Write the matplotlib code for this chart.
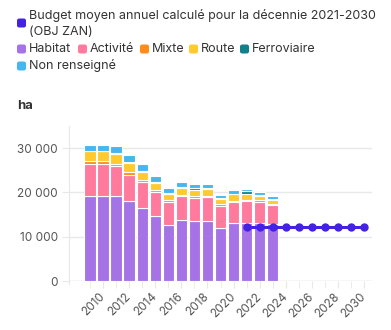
import matplotlib
matplotlib.use('Agg')
import matplotlib.pyplot as plt
from matplotlib.patches import FancyBboxPatch
from matplotlib.ticker import FuncFormatter

plt.rcParams['font.family'] = ['Inter', 'DejaVu Sans']

# data (ha)
years = list(range(2009, 2024))
habitat = [19300, 19300, 19170, 18130, 16470, 14670, 12740, 13860, 13480, 13560, 11910, 13180, 13100, 13030, 12800]
activite = [7150, 7150, 6730, 5870, 5780, 5480, 5090, 5240, 5240, 5390, 5020, 4650, 4950, 4800, 4430]
mixte = [550, 550, 600, 560, 450, 450, 470, 400, 380, 350, 470, 270, 250, 370, 270]
route = [2300, 2300, 2200, 2110, 2020, 1580, 1400, 1550, 1500, 1530, 1180, 1520, 1320, 1050, 860]
ferroviaire = [150, 150, 200, 100, 100, 100, 100, 100, 450, 100, 100, 100, 600, 100, 100]
non_renseigne = [1350, 1350, 1600, 1700, 1680, 1320, 1100, 1150, 950, 870, 720, 730, 450, 800, 710]

budget_years = list(range(2021, 2031))
budget = [12130] * len(budget_years)

series = [
    ('Habitat', habitat, '#a673e6'),
    ('Activité', activite, '#ff7a9c'),
    ('Mixte', mixte, '#ff8c1a'),
    ('Route', route, '#ffca2e'),
    ('Ferroviaire', ferroviaire, '#12808a'),
    ('Non renseigné', non_renseigne, '#44b6f0'),
]
budget_color = '#4421e3'

W, H = 391, 330
fig = plt.figure(figsize=(W / 100, H / 100), dpi=100)
ax = fig.add_axes([69 / W, 1 - 281 / H, (372 - 69) / W, (281 - 126) / H])

bottom = [0] * len(years)
for name, vals, col in series:
    ax.bar(years, vals, bottom=bottom, width=0.86, color=col, edgecolor='white',
           linewidth=0.8, zorder=2)
    bottom = [b + v for b, v in zip(bottom, vals)]

ax.plot(budget_years, budget, color=budget_color, lw=2.2, marker='o', ms=5, zorder=3)

ax.set_xlim(2007.4, 2030.6)
ax.set_ylim(0, 35000)
ax.set_yticks([0, 10000, 20000, 30000])
ax.yaxis.set_major_formatter(FuncFormatter(lambda v, p: f"{int(v):,}".replace(',', ' ')))
ax.set_xticks(range(2010, 2031, 2))
ax.set_xticks(range(2009, 2031), minor=True)
ax.grid(axis='y', color='#e8e8e8', lw=1, zorder=0)
for s in ['top', 'right', 'bottom']:
    ax.spines[s].set_visible(False)
ax.spines['left'].set_color('#e8e8e8')
ax.spines['left'].set_bounds(-600, 35000)
ax.tick_params(axis='y', length=5, color='#e8e8e8', labelsize=8.5, labelcolor='#555555', pad=3)
ax.tick_params(axis='x', which='both', length=5, color='#e8e8e8', labelsize=8.5,
               labelcolor='#555555', pad=5)
ax.axhline(0, color='#e8e8e8', lw=1, zorder=1)

for lab in ax.get_xticklabels():
    lab.set_rotation(45)
    lab.set_ha('right')
    lab.set_va('center')
    lab.set_rotation_mode('anchor')

fig.text(17 / W, 1 - 106 / H, 'ha', fontsize=9.5, fontweight='bold', color='#333333', va='center')

# legend
def legend_item(x, y, label, col):
    fig.patches.append(FancyBboxPatch((x / W, 1 - (y + 4.5) / H), 9 / W, 9 / H,
                                      boxstyle='round,pad=0,rounding_size=0.006',
                                      transform=fig.transFigure, facecolor=col,
                                      edgecolor='none'))
    fig.text((x + 12) / W, 1 - y / H, label, fontsize=9, color='#333333', va='center')

legend_item(17, 23, '', budget_color)
fig.text(29 / W, 1 - 15 / H, 'Budget moyen annuel calculé pour la décennie 2021-2030',
         fontsize=9, color='#333333', va='center')
fig.text(29 / W, 1 - 32 / H, '(OBJ ZAN)', fontsize=9, color='#333333', va='center')
legend_item(17, 49, 'Habitat', series[0][2])
legend_item(78, 49, 'Activité', series[1][2])
legend_item(140, 49, 'Mixte', series[2][2])
legend_item(189, 49, 'Route', series[3][2])
legend_item(240, 49, 'Ferroviaire', series[4][2])
legend_item(17, 66, 'Non renseigné', series[5][2])

fig.savefig('out.png', dpi=100)
